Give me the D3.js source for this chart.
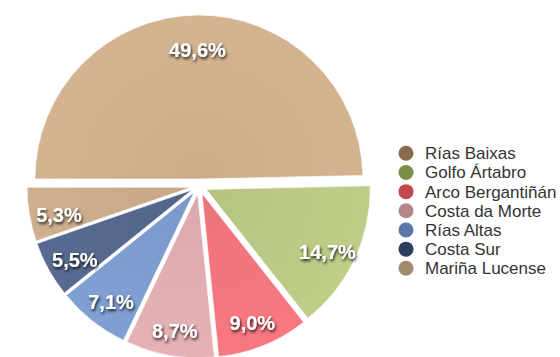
<!DOCTYPE html>
<html>
<head>
<meta charset="utf-8">
<script src="https://cdn.jsdelivr.net/npm/d3@7"></script>
<style>
  html, body { margin: 0; padding: 0; background: #ffffff; }
  svg { display: block; }
</style>
</head>
<body>
<svg id="chart" width="560" height="357"></svg>
<script>
// ---- data ----
const categories = ["Rías Baixas", "Golfo Ártabro", "Arco Bergantiñán", "Costa da Morte", "Rías Altas", "Costa Sur", "Mariña Lucense"];
const values = [49.6, 14.7, 9.0, 8.7, 7.1, 5.5, 5.3];
const sliceColors = ["#D2B28E", "#BCCB86", "#F5777F", "#E3AFB3", "#7F9ED2", "#56698F", "#CDAD8C"];
const legendColors = ["#8A6C4C", "#7D8F45", "#C1474C", "#B68587", "#5876AC", "#2C3D5E", "#A2896A"];

// ---- layout ----
const cx = 199, cy = 186, R = 164;
const labelR = 134;

const svg = d3.select("#chart");
const defs = svg.append("defs");

const shadow = defs.append("filter").attr("id", "txtShadow")
  .attr("x", "-30%").attr("y", "-50%").attr("width", "160%").attr("height", "200%");
shadow.append("feGaussianBlur").attr("in", "SourceAlpha").attr("stdDeviation", 1.4).attr("result", "blur");
shadow.append("feOffset").attr("in", "blur").attr("dx", 1).attr("dy", 1.8).attr("result", "off");
shadow.append("feComponentTransfer").attr("in", "off").attr("result", "offA")
  .append("feFuncA").attr("type", "linear").attr("slope", 0.85);
const merge = shadow.append("feMerge");
merge.append("feMergeNode").attr("in", "offA");
merge.append("feMergeNode").attr("in", "SourceGraphic");

sliceColors.forEach((c, i) => {
  const g = defs.append("radialGradient").attr("id", "grad" + i)
    .attr("gradientUnits", "userSpaceOnUse").attr("cx", 0).attr("cy", 0).attr("r", R);
  g.append("stop").attr("offset", "0%").attr("stop-color", d3.color(c).darker(0.1));
  g.append("stop").attr("offset", "100%").attr("stop-color", d3.color(c).brighter(0.03));
});

const pie = d3.pie().sort(null).value(d => d)
  .startAngle(-Math.PI / 2).endAngle(3 * Math.PI / 2);
const arc = d3.arc().innerRadius(0).outerRadius(R);
const arcs = pie(values);

const locale = d3.formatLocale({decimal: ",", thousands: ".", grouping: [3], currency: ["", "€"]});
const fmt = locale.format(".1f");

const slices = svg.append("g").selectAll("g.slice").data(arcs).join("g")
  .attr("class", "slice")
  .attr("transform", (d, i) => {
    const mid = (d.startAngle + d.endAngle) / 2;
    const off = i === 0 ? 7 : 8;
    return `translate(${cx + off * Math.sin(mid)},${cy - off * Math.cos(mid)})`;
  });

slices.append("path")
  .attr("d", arc)
  .attr("fill", (d, i) => `url(#grad${i})`)
  .attr("stroke", "#ffffff")
  .attr("stroke-width", 0.6);

slices.append("text")
  .attr("x", d => labelR * Math.sin((d.startAngle + d.endAngle) / 2))
  .attr("y", d => -labelR * Math.cos((d.startAngle + d.endAngle) / 2))
  .attr("dy", 12)
  .attr("text-anchor", "middle")
  .attr("font-family", "'Liberation Sans', Arial, sans-serif")
  .attr("font-weight", "bold")
  .attr("font-size", 20)
  .attr("fill", "#ffffff")
  .attr("filter", "url(#txtShadow)")
  .text((d, i) => fmt(values[i]) + "%");

// ---- legend ----
const legend = svg.append("g");
const rowY = d3.scaleLinear().domain([0, categories.length - 1]).range([153.3, 268.3]);
const rows = legend.selectAll("g").data(categories).join("g")
  .attr("transform", (d, i) => `translate(406,${rowY(i)})`);
rows.append("circle").attr("r", 7.5).attr("fill", (d, i) => legendColors[i]);
rows.append("text")
  .attr("x", 19).attr("y", 6)
  .attr("font-family", "'Liberation Sans', Arial, sans-serif")
  .attr("font-size", 17)
  .attr("fill", "#333333")
  .text(d => d);
</script>
</body>
</html>
